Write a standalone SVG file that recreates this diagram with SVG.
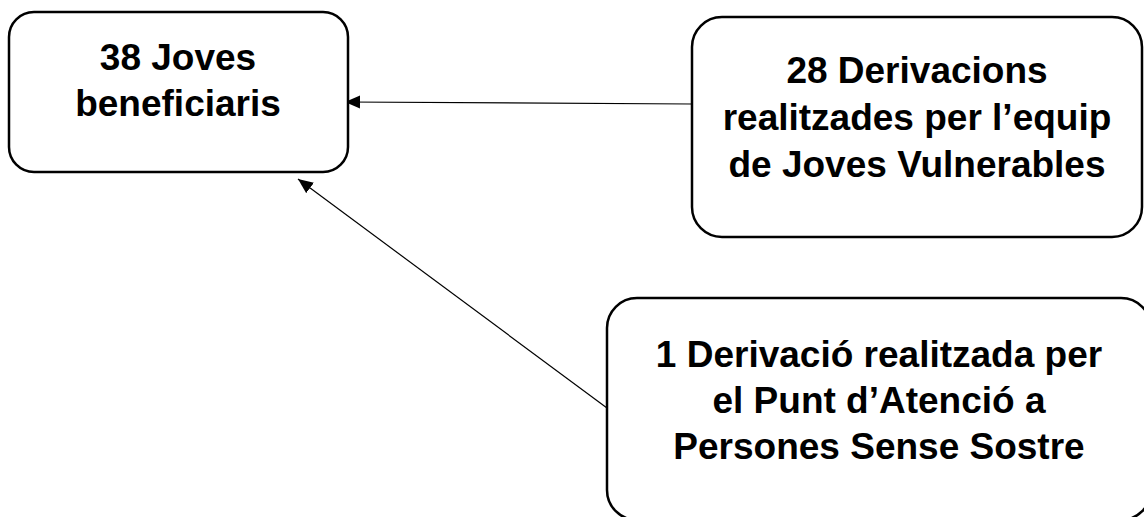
<svg xmlns="http://www.w3.org/2000/svg" width="1144" height="517" viewBox="0 0 1144 517">
<defs>
<style>
.box{fill:#fff;stroke:#000;stroke-width:2.5}
.lbl{font-family:"Liberation Sans",Arial,sans-serif;font-weight:bold;font-size:37px;fill:#000;text-anchor:middle}
.conn{stroke:#000;stroke-width:1.2;fill:none;marker-end:url(#ah)}
</style>
<marker id="ah" markerUnits="userSpaceOnUse" markerWidth="16" markerHeight="14" refX="15" refY="6.5" orient="auto">
<path d="M0,0 L15,6.5 L0,13 z" fill="#000"/>
</marker>
</defs>
<rect width="1144" height="517" fill="#fff"/>
<g id="connectors">
<line class="conn" x1="692" y1="104" x2="345" y2="102"/>
<line class="conn" x1="607" y1="408" x2="298" y2="179"/>
</g>
<g id="node-beneficiaris">
<rect class="box" x="9" y="12" width="339" height="160" rx="25"/>
<text class="lbl" x="178" y="70">38 Joves</text>
<text class="lbl" x="178" y="116">beneficiaris</text>
</g>
<g id="node-derivacions-jv">
<rect class="box" x="692" y="17" width="450" height="220" rx="30"/>
<text class="lbl" x="917" y="83">28 Derivacions</text>
<text class="lbl" x="917" y="130">realitzades per l’equip</text>
<text class="lbl" x="917" y="177">de Joves Vulnerables</text>
</g>
<g id="node-derivacio-pass">
<rect class="box" x="607" y="298" width="544" height="222" rx="30"/>
<text class="lbl" x="879" y="367">1 Derivació realitzada per</text>
<text class="lbl" x="879" y="413">el Punt d’Atenció a</text>
<text class="lbl" x="879" y="459">Persones Sense Sostre</text>
</g>
</svg>
